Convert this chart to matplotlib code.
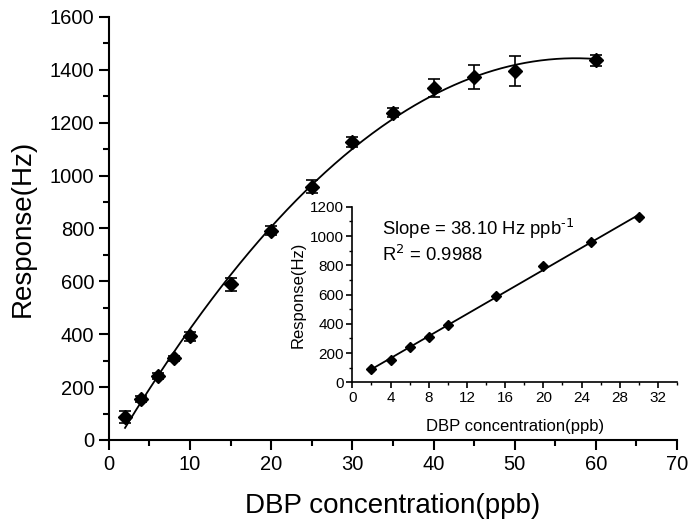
import numpy as np
import matplotlib
matplotlib.use("Agg")
import matplotlib.pyplot as plt
from matplotlib.ticker import MultipleLocator, FixedLocator

plt.rcParams['font.family'] = ['Liberation Sans', 'DejaVu Sans']

conc = [2, 4, 6, 8, 10, 15, 20, 25, 30, 35, 40, 45, 50, 60]
resp = [88, 155, 243, 309, 393, 589, 792, 958, 1128, 1238, 1333, 1372, 1396, 1436]
err = [22, 10, 12, 10, 17, 25, 16, 24, 19, 16, 34, 46, 56, 20]

lin_conc = conc[:9]
lin_resp = resp[:9]
lin_err = [8, 8, 8, 8, 8, 14, 10, 14, 8]

inset_xticks = [0, 4, 8, 12, 16, 20, 24, 28, 32]
inset_xminor = [2, 6, 10, 14, 18, 22, 26, 30, 34]

slope_text = r"Slope = 38.10 Hz ppb$^{\text{-}1}$"
r2_text = r"R$^{2}$ = 0.9988"

fig = plt.figure(figsize=(6.93, 5.31), dpi=100)
ax = fig.add_axes([0.157, 0.1714, 0.977 - 0.157, 0.968 - 0.1714])

ax.errorbar(conc, resp, yerr=err, fmt='D', color='black', ms=7.5,
            capsize=4, elinewidth=1.2, capthick=1.2, zorder=3)
coef = np.polyfit(conc, resp, 2)
xs = np.linspace(min(conc), max(conc), 300)
ax.plot(xs, np.polyval(coef, xs), color='black', lw=1.3)

ax.set_xlim(0, 70)
ax.set_ylim(0, 1600)
ax.xaxis.set_major_locator(MultipleLocator(10))
ax.xaxis.set_minor_locator(MultipleLocator(5))
ax.yaxis.set_major_locator(MultipleLocator(200))
ax.yaxis.set_minor_locator(MultipleLocator(100))
for s in ['top', 'right']:
    ax.spines[s].set_visible(False)
for s in ['left', 'bottom']:
    ax.spines[s].set_linewidth(1.5)
ax.tick_params(which='major', direction='out', length=7, width=1.5, labelsize=14.5)
ax.tick_params(which='minor', direction='out', length=4, width=1.5)
ax.set_xlabel("DBP concentration(ppb)", fontsize=20, labelpad=14)
ax.set_ylabel("Response(Hz)", fontsize=20, labelpad=10)

ins = ax.inset_axes([30, 218, 40, 664], transform=ax.transData)
ins.errorbar(lin_conc, lin_resp, yerr=lin_err, fmt='D', color='black', ms=5,
             capsize=2, elinewidth=1.0, capthick=1.0, zorder=3)
lc = np.polyfit(lin_conc, lin_resp, 1)
xl = np.array([min(lin_conc), max(lin_conc)])
ins.plot(xl, np.polyval(lc, xl), color='black', lw=1.3)
ins.set_xlim(0, 34)
ins.set_ylim(0, 1200)
ins.xaxis.set_major_locator(FixedLocator(inset_xticks))
ins.xaxis.set_minor_locator(FixedLocator(inset_xminor))
ins.yaxis.set_major_locator(MultipleLocator(200))
ins.yaxis.set_minor_locator(MultipleLocator(100))
ins.patch.set_alpha(0)
for s in ['top', 'right']:
    ins.spines[s].set_visible(False)
for s in ['left', 'bottom']:
    ins.spines[s].set_linewidth(1.2)
ins.tick_params(which='major', direction='out', length=4, width=1.2, labelsize=11, pad=2)
ins.tick_params(which='minor', direction='out', length=2.5, width=1.0)
ins.set_xlabel("DBP concentration(ppb)", fontsize=12, labelpad=10)
ins.set_ylabel("Response(Hz)", fontsize=12, labelpad=3)
ins.text(3.1, 1046, slope_text, fontsize=13.3, va='center', ha='left')
ins.text(3.1, 870, r2_text, fontsize=13.3, va='center', ha='left')

fig.savefig("out.png", dpi=100)
